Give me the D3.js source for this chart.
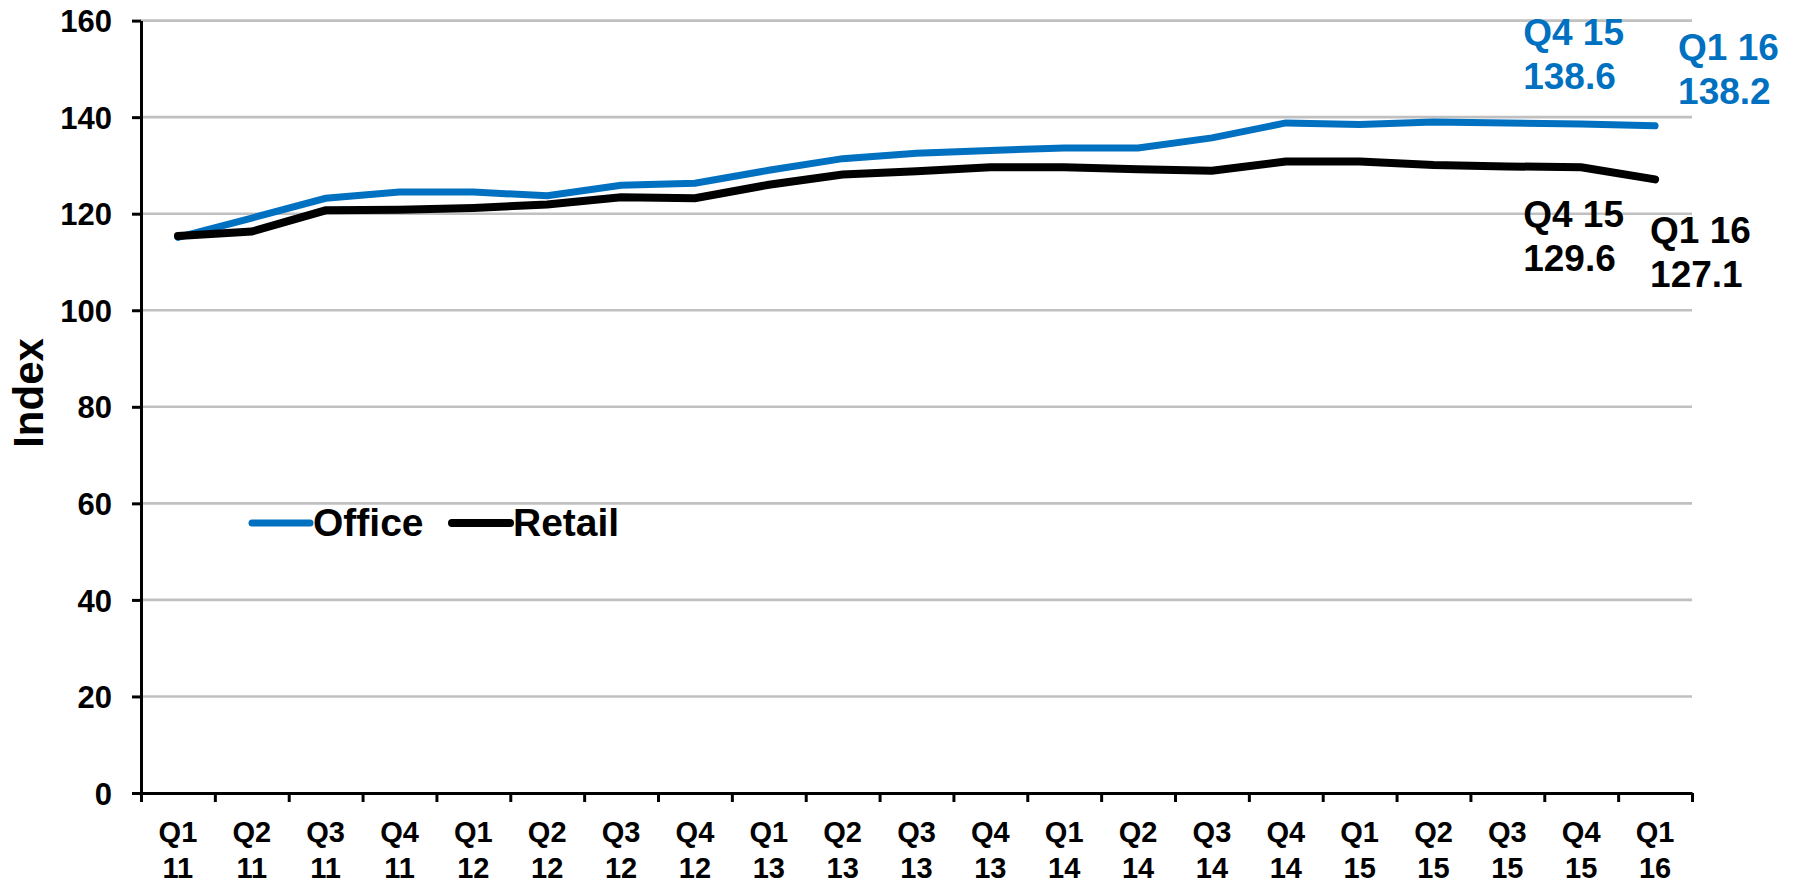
<!DOCTYPE html>
<html><head><meta charset="utf-8">
<script src="https://cdn.jsdelivr.net/npm/d3@7"></script>
<style>
html,body{margin:0;padding:0;background:#fff;}
svg text{font-family:"Liberation Sans",Arial,sans-serif;font-weight:bold;}
</style></head>
<body><svg id="chart" width="1797" height="888"></svg>
<script>
const quarters = ["Q1","Q2","Q3","Q4","Q1","Q2","Q3","Q4","Q1","Q2","Q3","Q4","Q1","Q2","Q3","Q4","Q1","Q2","Q3","Q4","Q1"];
const years    = ["11","11","11","11","12","12","12","12","13","13","13","13","14","14","14","14","15","15","15","15","16"];
const office = [115.1,119.1,123.2,124.5,124.5,123.7,125.9,126.3,129.0,131.4,132.5,133.1,133.6,133.6,135.7,138.8,138.5,139.0,138.8,138.6,138.2];
const retail = [115.4,116.3,120.7,120.8,121.2,121.9,123.4,123.2,126.0,128.1,128.8,129.6,129.6,129.2,128.9,130.8,130.8,130.1,129.8,129.6,127.1];
const yTicks = [0,20,40,60,80,100,120,140,160];
const seriesNames = ["Office","Retail"];
const seriesColors = ["#0070C0","#000000"];

const svg = d3.select("#chart");
const L = 141, R = 1692, T = 20.6, B = 793;
const cats = d3.range(quarters.length);
const x = d3.scaleBand().domain(cats).range([L, R]).padding(0);
const xc = i => x(i) + x.bandwidth()/2;
const xEdge = d3.scaleLinear().domain([0, cats.length]).range([L, R]);
const y = d3.scaleLinear().domain([0,160]).range([B, T]);

// gridlines
svg.append("g").selectAll("line").data(yTicks.filter(v => v > 0)).join("line")
  .attr("x1", L).attr("x2", R).attr("y1", d => y(d)).attr("y2", d => y(d))
  .attr("stroke", "#c0c0c0").attr("stroke-width", 2.6);

// y axis
const ya = svg.append("g").attr("transform", `translate(${L},0)`)
  .call(d3.axisLeft(y).tickValues(yTicks).tickSize(9).tickPadding(20).tickSizeOuter(0));
ya.select(".domain").attr("stroke", "#000").attr("stroke-width", 3);
ya.selectAll(".tick line").attr("stroke", "#000").attr("stroke-width", 3);
ya.selectAll(".tick text").attr("font-size", 31).attr("fill", "#000").attr("dy", "0.36em")
  .style("font-family", '"Liberation Sans",Arial,sans-serif').style("font-weight", "bold");

// x axis (boundary ticks)
const xa = svg.append("g").attr("transform", `translate(0,${B})`)
  .call(d3.axisBottom(xEdge).tickValues(d3.range(cats.length + 1)).tickSize(9).tickFormat("").tickSizeOuter(0));
xa.select(".domain").attr("stroke", "#000").attr("stroke-width", 3);
xa.selectAll(".tick line").attr("stroke", "#000").attr("stroke-width", 3);

// x labels
const xl = svg.append("g").selectAll("text").data(cats).join("text")
  .attr("text-anchor", "middle").attr("font-size", 29).attr("fill", "#000");
xl.append("tspan").attr("x", d => xc(d)).attr("y", 842).text(d => quarters[d]);
xl.append("tspan").attr("x", d => xc(d)).attr("y", 878).text(d => years[d]);

// y title
svg.append("text").attr("transform", "translate(43,393) rotate(-90)")
  .attr("text-anchor", "middle").attr("font-size", 42).attr("fill", "#000").text("Index");

// lines
const line = d3.line().x((d, i) => xc(i)).y(d => y(d));
[office, retail].forEach((s, k) => {
  svg.append("path").datum(s).attr("d", line).attr("fill", "none")
    .attr("stroke", seriesColors[k]).attr("stroke-width", k === 0 ? 7 : 8)
    .attr("stroke-linecap", "round").attr("stroke-linejoin", "miter");
});

// legend
const leg = [{x1: 252, x2: 310, tx: 313}, {x1: 452, x2: 510, tx: 513}];
seriesNames.forEach((n, k) => {
  svg.append("line").attr("x1", leg[k].x1).attr("x2", leg[k].x2).attr("y1", 523).attr("y2", 523)
    .attr("stroke", seriesColors[k]).attr("stroke-width", k === 0 ? 7 : 8).attr("stroke-linecap", "round");
  svg.append("text").attr("x", leg[k].tx).attr("y", 536).attr("font-size", 39).attr("fill", "#000").text(n);
});

// annotations
const n = cats.length;
const ann = [
  {s: 0, i: n-2, dx: -58, dy1: -79, color: seriesColors[0]},
  {s: 0, i: n-1, dx: 23, dy1: -66, color: seriesColors[0]},
  {s: 1, i: n-2, dx: -58, dy1: 60, color: seriesColors[1]},
  {s: 1, i: n-1, dx: -5, dy1: 64, color: seriesColors[1]}
];
ann.forEach(a => {
  const v = (a.s === 0 ? office : retail)[a.i];
  const t = svg.append("text").attr("font-size", 37).attr("fill", a.color);
  t.append("tspan").attr("x", xc(a.i) + a.dx).attr("y", y(v) + a.dy1).text(quarters[a.i] + " " + years[a.i]);
  t.append("tspan").attr("x", xc(a.i) + a.dx).attr("y", y(v) + a.dy1 + 44).text(v.toFixed(1));
});
</script></body></html>
